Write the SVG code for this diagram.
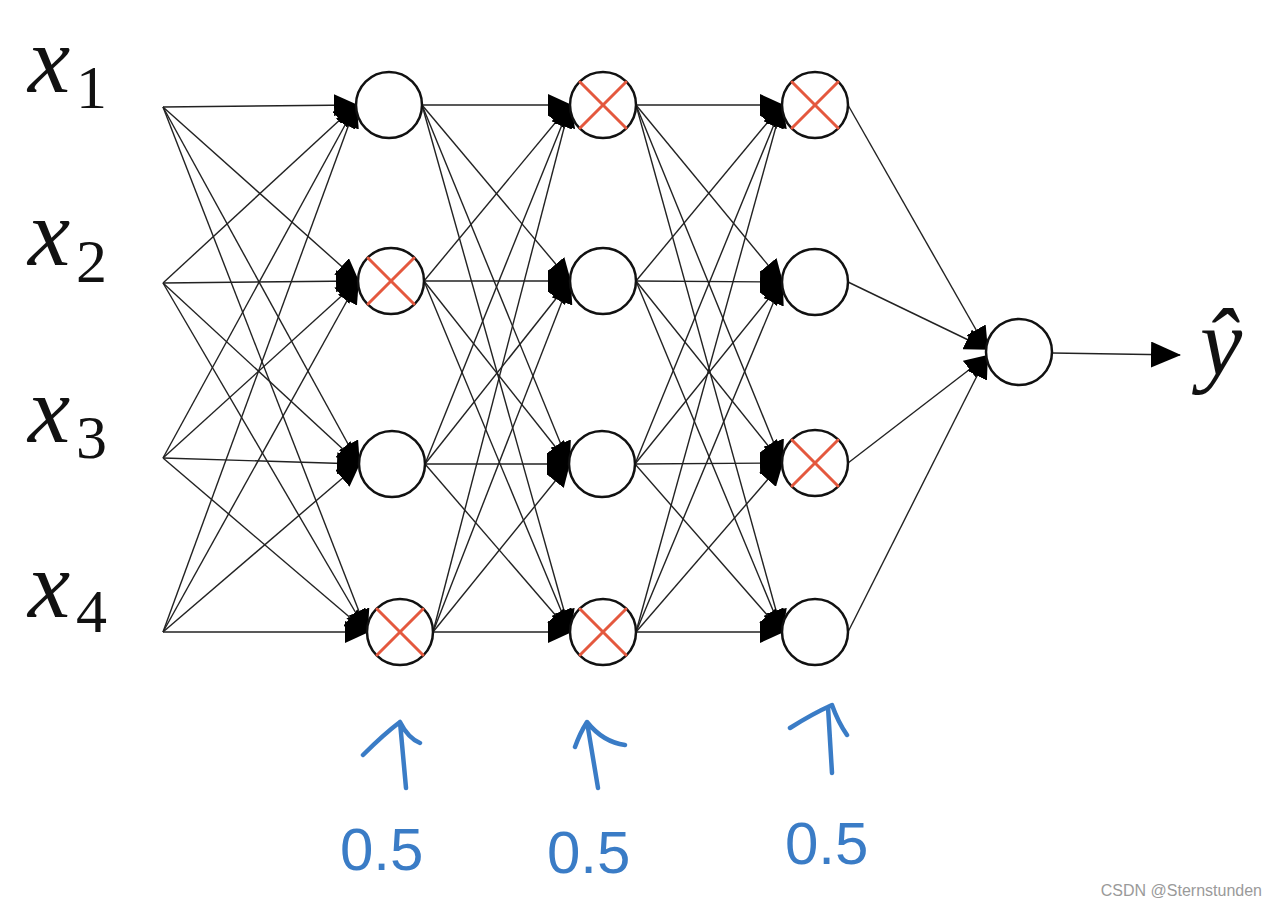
<svg xmlns="http://www.w3.org/2000/svg" width="1276" height="906" viewBox="0 0 1276 906">
<defs>
<marker id="ah" markerUnits="userSpaceOnUse" viewBox="0 0 24 22" markerWidth="24" markerHeight="22" refX="22" refY="11" orient="auto"><path d="M0,0 L24,11 L0,22 z" fill="#000"/></marker>
<marker id="big" markerUnits="userSpaceOnUse" viewBox="0 0 30 26" markerWidth="30" markerHeight="26" refX="29" refY="13" orient="auto"><path d="M0,0 L30,13 L0,26 z" fill="#000"/></marker>
</defs>
<style>
.e{stroke:#222;stroke-width:1.4;fill:none;marker-end:url(#ah)}
.n{fill:#fff;stroke:#111;stroke-width:2.5}
.d{stroke:#e4583e;stroke-width:3;stroke-linecap:round}
.xl{font-family:"Liberation Serif",serif;font-style:italic;font-size:95px;fill:#111}
.sub{font-family:"Liberation Serif",serif;font-size:62px;fill:#111}
.b{stroke:#3a7cc6;stroke-width:4.5;fill:none;stroke-linecap:round;stroke-linejoin:round}
.bt{font-family:"Liberation Sans",sans-serif;font-size:60px;fill:#3a7cc6}
</style>
<rect width="1276" height="906" fill="#fff"/>
<g id="labels">
<text class="xl" x="28" y="92">x</text><text class="sub" x="76" y="108">1</text>
<text class="xl" x="28" y="265">x</text><text class="sub" x="76" y="282">2</text>
<text class="xl" x="28" y="442">x</text><text class="sub" x="76" y="458">3</text>
<text class="xl" x="28" y="617">x</text><text class="sub" x="76" y="632">4</text>
<text class="xl" x="1200" y="375" font-size="92">ŷ</text>
</g>
<g id="connectors">
<line class="e" x1="163" y1="107" x2="356" y2="105"/>
<line class="e" x1="163" y1="107" x2="358" y2="281"/>
<line class="e" x1="163" y1="107" x2="359" y2="464"/>
<line class="e" x1="163" y1="107" x2="367" y2="632"/>
<line class="e" x1="163" y1="283" x2="356" y2="105"/>
<line class="e" x1="163" y1="283" x2="358" y2="281"/>
<line class="e" x1="163" y1="283" x2="359" y2="464"/>
<line class="e" x1="163" y1="283" x2="367" y2="632"/>
<line class="e" x1="163" y1="458" x2="356" y2="105"/>
<line class="e" x1="163" y1="458" x2="358" y2="281"/>
<line class="e" x1="163" y1="458" x2="359" y2="464"/>
<line class="e" x1="163" y1="458" x2="367" y2="632"/>
<line class="e" x1="163" y1="632" x2="356" y2="105"/>
<line class="e" x1="163" y1="632" x2="358" y2="281"/>
<line class="e" x1="163" y1="632" x2="359" y2="464"/>
<line class="e" x1="163" y1="632" x2="367" y2="632"/>

<line class="e" x1="422" y1="105" x2="570" y2="105"/>
<line class="e" x1="422" y1="105" x2="570" y2="281"/>
<line class="e" x1="422" y1="105" x2="569" y2="464"/>
<line class="e" x1="422" y1="105" x2="570" y2="632"/>
<line class="e" x1="424" y1="281" x2="570" y2="105"/>
<line class="e" x1="424" y1="281" x2="570" y2="281"/>
<line class="e" x1="424" y1="281" x2="569" y2="464"/>
<line class="e" x1="424" y1="281" x2="570" y2="632"/>
<line class="e" x1="425" y1="464" x2="570" y2="105"/>
<line class="e" x1="425" y1="464" x2="570" y2="281"/>
<line class="e" x1="425" y1="464" x2="569" y2="464"/>
<line class="e" x1="425" y1="464" x2="570" y2="632"/>
<line class="e" x1="433" y1="632" x2="570" y2="105"/>
<line class="e" x1="433" y1="632" x2="570" y2="281"/>
<line class="e" x1="433" y1="632" x2="569" y2="464"/>
<line class="e" x1="433" y1="632" x2="570" y2="632"/>

<line class="e" x1="636" y1="105" x2="782" y2="105"/>
<line class="e" x1="636" y1="105" x2="782" y2="282"/>
<line class="e" x1="636" y1="105" x2="782" y2="463"/>
<line class="e" x1="636" y1="105" x2="782" y2="632"/>
<line class="e" x1="636" y1="281" x2="782" y2="105"/>
<line class="e" x1="636" y1="281" x2="782" y2="282"/>
<line class="e" x1="636" y1="281" x2="782" y2="463"/>
<line class="e" x1="636" y1="281" x2="782" y2="632"/>
<line class="e" x1="635" y1="464" x2="782" y2="105"/>
<line class="e" x1="635" y1="464" x2="782" y2="282"/>
<line class="e" x1="635" y1="464" x2="782" y2="463"/>
<line class="e" x1="635" y1="464" x2="782" y2="632"/>
<line class="e" x1="636" y1="632" x2="782" y2="105"/>
<line class="e" x1="636" y1="632" x2="782" y2="282"/>
<line class="e" x1="636" y1="632" x2="782" y2="463"/>
<line class="e" x1="636" y1="632" x2="782" y2="632"/>

<line class="e" x1="848" y1="105" x2="987" y2="349"/>
<line class="e" x1="848" y1="282" x2="987" y2="349"/>
<line class="e" x1="848" y1="463" x2="987" y2="356"/>
<line class="e" x1="848" y1="632" x2="987" y2="356"/>

<line x1="1052" y1="353" x2="1180" y2="355" stroke="#222" stroke-width="1.5" marker-end="url(#big)"/>
</g>
<g id="layer1">
<g id="h1_1"><circle class="n" cx="389" cy="105" r="33"/></g>
<g id="h1_2"><circle class="n" cx="391" cy="281" r="33"/><line class="d" x1="368" y1="258" x2="414" y2="304"/><line class="d" x1="414" y1="258" x2="368" y2="304"/></g>
<g id="h1_3"><circle class="n" cx="392" cy="464" r="33"/></g>
<g id="h1_4"><circle class="n" cx="400" cy="632" r="33"/><line class="d" x1="377" y1="609" x2="423" y2="655"/><line class="d" x1="423" y1="609" x2="377" y2="655"/></g>
</g>
<g id="layer2">
<g id="h2_1"><circle class="n" cx="603" cy="105" r="33"/><line class="d" x1="580" y1="82" x2="626" y2="128"/><line class="d" x1="626" y1="82" x2="580" y2="128"/></g>
<g id="h2_2"><circle class="n" cx="603" cy="281" r="33"/></g>
<g id="h2_3"><circle class="n" cx="602" cy="464" r="33"/></g>
<g id="h2_4"><circle class="n" cx="603" cy="632" r="33"/><line class="d" x1="580" y1="609" x2="626" y2="655"/><line class="d" x1="626" y1="609" x2="580" y2="655"/></g>
</g>
<g id="layer3">
<g id="h3_1"><circle class="n" cx="815" cy="105" r="33"/><line class="d" x1="792" y1="82" x2="838" y2="128"/><line class="d" x1="838" y1="82" x2="792" y2="128"/></g>
<g id="h3_2"><circle class="n" cx="815" cy="282" r="33"/></g>
<g id="h3_3"><circle class="n" cx="815" cy="463" r="33"/><line class="d" x1="792" y1="440" x2="838" y2="486"/><line class="d" x1="838" y1="440" x2="792" y2="486"/></g>
<g id="h3_4"><circle class="n" cx="815" cy="632" r="33"/></g>
</g>
<g id="output"><circle class="n" cx="1019" cy="352" r="33"/></g>
<g id="keep-probs">
<path class="b" d="M406,788 L400,722 M363,755 Q384,734 400,722 Q408,738 420,743"/>
<path class="b" d="M598,788 L587,722 M575,747 Q580,733 587,722 Q603,742 625,745"/>
<path class="b" d="M832,773 L828,707 M790,728 Q812,714 832,705 Q838,722 847,735"/>
<text class="bt" x="340" y="870">0.5</text>
<text class="bt" x="547" y="873">0.5</text>
<text class="bt" x="785" y="864" font-size="56">0.5</text>
</g>
<text x="1262" y="896" text-anchor="end" font-family="Liberation Sans,sans-serif" font-size="16" fill="#9a9a9a">CSDN @Sternstunden</text>
</svg>
